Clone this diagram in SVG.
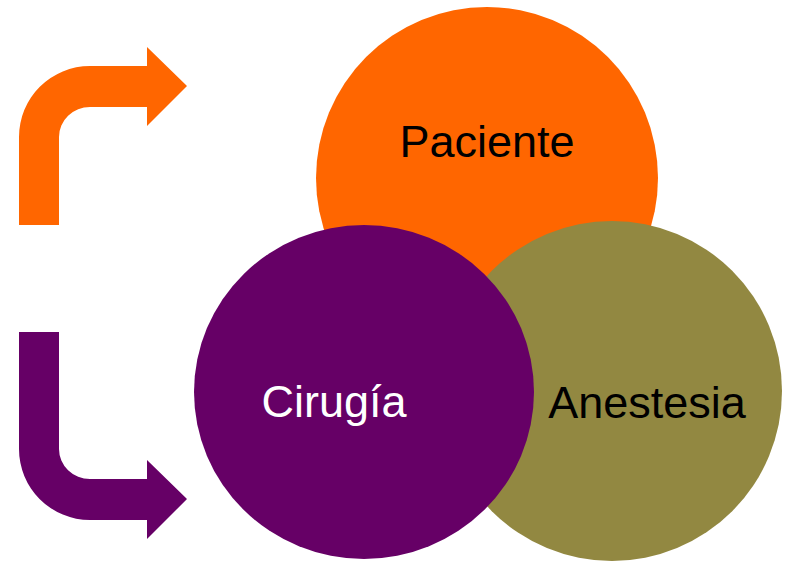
<svg xmlns="http://www.w3.org/2000/svg" width="789" height="562" viewBox="0 0 789 562">
<style>
.lbl{font-family:"Liberation Sans",Arial,sans-serif;font-size:45px;text-anchor:middle}
</style>
<rect width="789" height="562" fill="#ffffff"/>
<g id="connectors">
<path id="arrow-top" d="M19,225 L19,137 A71,71 0 0 1 90,66 L147,66 L147,47 L187,86 L147,126 L147,107 L90,107 A31,30 0 0 0 59,137 L59,225 Z" fill="#ff6600"/>
<path id="arrow-bottom" d="M19,332 L19,449 A71,71 0 0 0 90,520 L147,520 L147,539 L187,499 L147,460 L147,479 L90,479 A31,30 0 0 1 59,449 L59,332 Z" fill="#660066"/>
</g>
<g id="paciente">
<circle cx="487" cy="178" r="171" fill="#ff6600"/>
<text class="lbl" x="487" y="157" fill="#000000">Paciente</text>
</g>
<g id="anestesia">
<circle cx="612" cy="391" r="170" fill="#928841"/>
<text class="lbl" x="647" y="418" fill="#000000">Anestesia</text>
</g>
<g id="cirugia">
<ellipse cx="364" cy="392" rx="170" ry="167" fill="#660066"/>
<text class="lbl" x="334" y="417" fill="#ffffff">Cirugía</text>
</g>
</svg>
